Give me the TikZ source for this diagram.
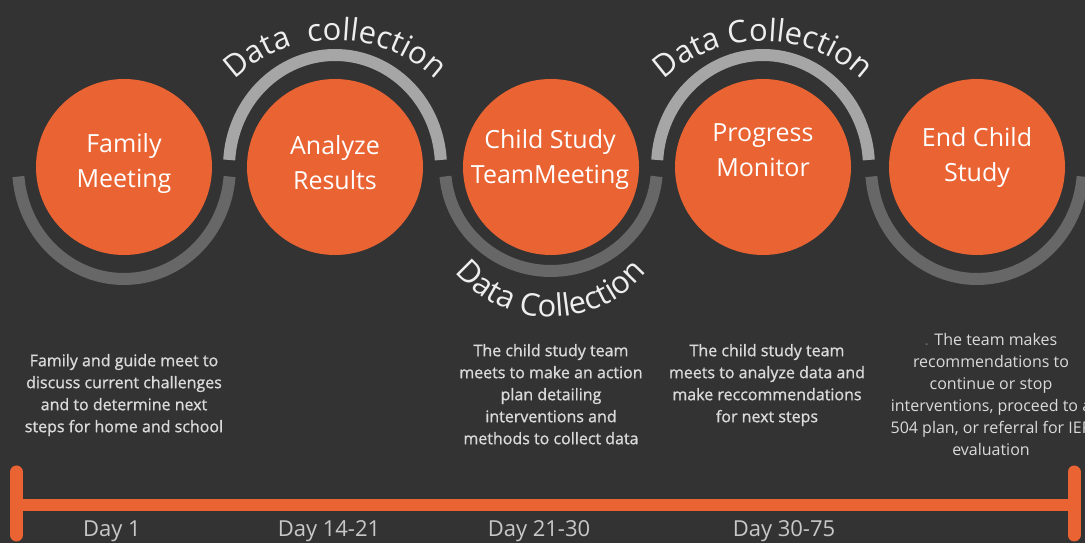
\documentclass[tikz,border=0pt]{standalone}
\usepackage{fontspec}
\setmainfont{Open Sans}
\newfontfamily\semibf{Open Sans}[FakeBold=1]
\usetikzlibrary{decorations.text}

\definecolor{bg}{HTML}{333333}
\definecolor{orng}{HTML}{EA6333}
\definecolor{arclight}{HTML}{A6A6A6}
\definecolor{arcdark}{HTML}{676767}
\definecolor{desctext}{HTML}{DADADA}
\definecolor{daytext}{HTML}{C8C8C8}
\definecolor{archtext}{HTML}{EEEEEE}

\newcommand\titlestrut{\rule{0pt}{20bp}}
\newcommand\descstrut{\rule{0pt}{14bp}}

\begin{document}
\begin{tikzpicture}[x=1bp,y=1bp,
  disc/.style={circle, fill=orng, minimum size=176bp, inner sep=0pt},
  title/.style={text=white, font=\fontsize{25bp}{35bp}\selectfont, align=center, anchor=north, inner sep=0pt},
  desc/.style={text=desctext, font=\semibf\fontsize{16bp}{22bp}\selectfont, align=center, anchor=north, inner sep=0pt},
  descthin/.style={desc, font=\fontsize{16bp}{22bp}\selectfont},
  day/.style={text=daytext, font=\fontsize{22bp}{26bp}\selectfont, anchor=base, inner sep=0pt},
  upperarc/.style={draw=arclight, line width=12bp},
  lowerarc/.style={draw=arcdark, line width=12bp},
  bar/.style={draw=orng, line width=13bp, line cap=round},
  axis/.style={draw=orng, line width=12bp},
  curved/.style={decorate, decoration={text along path, text align=center, text color=archtext, text={|\fontsize{31bp}{36bp}\selectfont|#1}}}
]
% canvas
\useasboundingbox (0,0) rectangle (1085,543);
\clip (0,0) rectangle (1085,543);
\fill[bg] (0,0) rectangle (1085,543);

% stage discs
\node[disc] (c1) at (124,376) {};
\node[disc] (c2) at (335,376) {};
\node[disc] (c3) at (551,376) {};
\node[disc] (c4) at (763,376) {};
\node[disc] (c5) at (977,376) {};

% arcs weaving between the discs
\draw[lowerarc] (c1.center) ++(184.9:106 and 112) arc[start angle=184.9, end angle=355.1, x radius=106, y radius=112];
\draw[upperarc] (c2.center) ++(3.6:106 and 112) arc[start angle=3.6, end angle=176.4, x radius=106, y radius=112];
\draw[lowerarc] (c3.center) ++(185.2:106 and 104) arc[start angle=185.2, end angle=354.8, x radius=106, y radius=104];
\draw[upperarc] (c4.center) ++(3.6:106 and 112) arc[start angle=3.6, end angle=176.4, x radius=106, y radius=112];
\draw[lowerarc] (c5.center) ++(184.9:106 and 112) arc[start angle=184.9, end angle=355.1, x radius=106, y radius=112];

% disc titles
\node[title] (t1) at (124,411) {\titlestrut Family\\Meeting};
\node[title] (t2) at (335,409) {\titlestrut Analyze\\Results};
\node[title] (t3) at (550,415) {\titlestrut Child Study\\TeamMeeting};
\node[title] (t4) at (763,422) {\titlestrut Progress\\Monitor};
\node[title] (t5) at (977,417) {\titlestrut End Child\\Study};

% arched labels
\path[curved={Data~ collection}] (189,357) arc[start angle=180, end angle=0, radius=146];
\path[curved={Data Collection}] (618,357) arc[start angle=180, end angle=0, radius=145];
\path[curved={Data Collection}] (426,351) arc[start angle=180, end angle=360, radius=125];

% descriptions
\node[desc] (d1) at (124,191) {\descstrut Family and guide meet to\\discuss current challenges\\and to determine next\\steps for home and school};
\node[desc] (d2) at (551,201) {\descstrut The child study team\\meets to make an action\\plan detailing\\interventions and\\methods to collect data};
\node[desc] (d3) at (767,201) {\descstrut The child study team\\meets to analyze data and\\make reccommendations\\for next steps};
\node[descthin] (d4) at (991,212) {\descstrut{\color{arcdark}.} The team makes\\recommendations to\\continue or stop\\interventions, proceed to a\\504 plan, or referral for IEP\\evaluation};

% timeline
\coordinate (axl) at (16.5,38);
\coordinate (axr) at (1074,38);
\coordinate (lbt) at (16.5,71);
\coordinate (lbb) at (16.5,8);
\coordinate (rbt) at (1074,71);
\coordinate (rbb) at (1074,8);
\draw[axis] (axl) -- (axr);
\draw[bar] (lbt) -- (lbb);
\draw[bar] (rbt) -- (rbb);

% day labels
\node[day] (day1) at (112,6) {Day 1};
\node[day] (day2) at (329,6) {Day 14-21};
\node[day] (day3) at (539,6) {Day 21-30};
\node[day] (day4) at (784,6) {Day 30-75};
\end{tikzpicture}
\end{document}
